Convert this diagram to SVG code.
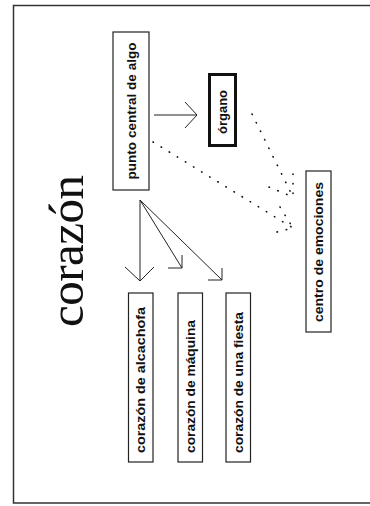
<svg xmlns="http://www.w3.org/2000/svg" width="370" height="506" viewBox="0 0 370 506">
<style>
.box{fill:#fff;stroke:#222;stroke-width:1.2}
.thick{fill:#fff;stroke:#111;stroke-width:3}
.lbl{font-family:"Liberation Sans",Arial,sans-serif;font-size:12.5px;font-weight:bold;fill:#111}
.ln{fill:none;stroke:#222;stroke-width:1}
.dot{fill:none;stroke:#111;stroke-width:1.6;stroke-linecap:round;stroke-dasharray:0.5 9}
</style>
<rect width="370" height="506" fill="#fff"/>
<path d="M372,5.5 H13.5 V503 H372" fill="none" stroke="#333" stroke-width="1.5"/>
<g id="title">
<text transform="translate(83,251) rotate(-90)" text-anchor="middle" font-family="Liberation Serif,'Times New Roman',serif" font-size="49" textLength="152" fill="#111">corazón</text>
</g>
<g id="connectors">
<line class="ln" x1="154" y1="115" x2="197" y2="115"/>
<polyline class="ln" points="185,102 197,115 185,128"/>
<line class="ln" x1="140" y1="200" x2="140" y2="281"/>
<polyline class="ln" points="125,267 140,281 154,267"/>
<line class="ln" x1="140" y1="200" x2="182" y2="268"/>
<polyline class="ln" points="168,268 182,268 182,255"/>
<line class="ln" x1="140" y1="200" x2="222" y2="280"/>
<polyline class="ln" points="208,280 222,280 222,268"/>
<line class="dot" x1="252" y1="114" x2="293" y2="197"/>
<polyline class="dot" points="293,174 293,197"/>
<polyline class="dot" points="269,187 293,197"/>
<line class="dot" x1="153" y1="142" x2="293" y2="228"/>
<polyline class="dot" points="280,207 293,228"/>
<polyline class="dot" points="277,232 293,228"/>
</g>
<g id="punto">
<rect class="box" x="113" y="32" width="36" height="158"/>
<text class="lbl" transform="translate(132,111) rotate(-90)" text-anchor="middle" dominant-baseline="central" textLength="137" lengthAdjust="spacingAndGlyphs">punto central de algo</text>
</g>
<g id="organo">
<rect class="thick" x="209.5" y="74.5" width="26" height="71"/>
<text class="lbl" transform="translate(223,112) rotate(-90)" text-anchor="middle" dominant-baseline="central" textLength="44" lengthAdjust="spacingAndGlyphs">órgano</text>
</g>
<g id="centro">
<rect class="box" x="306" y="171" width="25" height="161"/>
<text class="lbl" transform="translate(318.5,252) rotate(-90)" text-anchor="middle" dominant-baseline="central" textLength="140" lengthAdjust="spacingAndGlyphs">centro de emociones</text>
</g>
<g id="alcachofa">
<rect class="box" x="128.5" y="293" width="24.5" height="169"/>
<text class="lbl" transform="translate(141,453) rotate(-90)" dominant-baseline="central" textLength="146" lengthAdjust="spacingAndGlyphs">corazón de alcachofa</text>
</g>
<g id="maquina">
<rect class="box" x="178" y="293" width="24.5" height="169"/>
<text class="lbl" transform="translate(190.5,453) rotate(-90)" dominant-baseline="central" textLength="133" lengthAdjust="spacingAndGlyphs">corazón de máquina</text>
</g>
<g id="fiesta">
<rect class="box" x="226" y="293" width="24.5" height="169"/>
<text class="lbl" transform="translate(238.5,453) rotate(-90)" dominant-baseline="central" textLength="141" lengthAdjust="spacingAndGlyphs">corazón de una fiesta</text>
</g>
</svg>
